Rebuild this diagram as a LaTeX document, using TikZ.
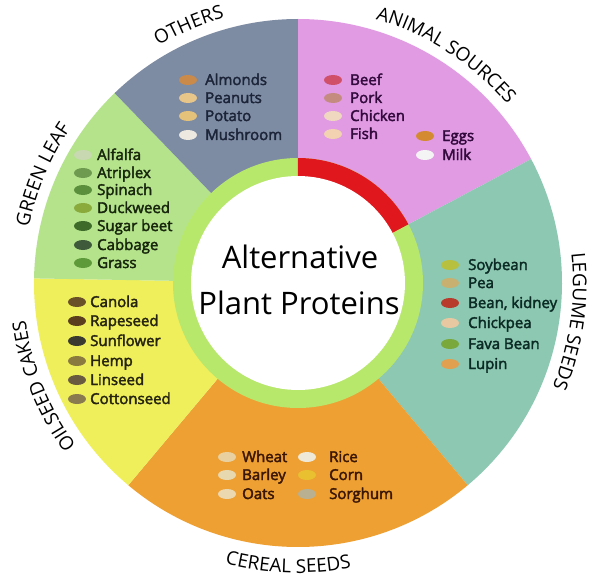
\documentclass[tikz,border=0pt]{standalone}
\usepackage{fontspec}
\setmainfont{Open Sans}
\newfontfamily\itemfamily[FakeBold=2.5]{Open Sans}
\usetikzlibrary{decorations.text}
\definecolor{animal}{HTML}{E09BE3}
\definecolor{legume}{HTML}{8DC8B2}
\definecolor{cereal}{HTML}{EEA033}
\definecolor{oilseed}{HTML}{EFEF5C}
\definecolor{greenleaf}{HTML}{B4E38C}
\definecolor{others}{HTML}{7D8BA3}
\definecolor{ringgreen}{HTML}{B7E86C}
\definecolor{ringred}{HTML}{E0181E}
\definecolor{othtext}{HTML}{1C2438}
\definecolor{anitext}{HTML}{330A3D}
\definecolor{grtext}{HTML}{17260C}
\definecolor{legtext}{HTML}{0B2A24}
\definecolor{oiltext}{HTML}{262410}
\definecolor{certext}{HTML}{3A1604}
% icon colours
\definecolor{almond}{HTML}{C98A4A}\definecolor{peanut}{HTML}{E8C68A}
\definecolor{potato}{HTML}{E5C27A}\definecolor{mushroom}{HTML}{EDE8E0}
\definecolor{alfalfa}{HTML}{C8D8B0}\definecolor{atriplex}{HTML}{6E9A50}
\definecolor{spinach}{HTML}{5C8F3C}\definecolor{duckweed}{HTML}{8AAA3C}
\definecolor{sugarbeet}{HTML}{3E6A2A}\definecolor{cabbage}{HTML}{3F5A3A}
\definecolor{grass}{HTML}{5E9A3A}
\definecolor{beef}{HTML}{D0506A}\definecolor{pork}{HTML}{C48C80}
\definecolor{chicken}{HTML}{F0D8C0}\definecolor{fish}{HTML}{F2D2B0}
\definecolor{eggs}{HTML}{D48A30}\definecolor{milk}{HTML}{F4F4F4}
\definecolor{soybean}{HTML}{B8C040}\definecolor{pea}{HTML}{C8B070}
\definecolor{kidney}{HTML}{B83A2A}\definecolor{chickpea}{HTML}{E8C8A0}
\definecolor{fava}{HTML}{7AA83A}\definecolor{lupin}{HTML}{E0A050}
\definecolor{canola}{HTML}{6A5028}\definecolor{rapeseed}{HTML}{5A3E1E}
\definecolor{sunflower}{HTML}{3A3A30}\definecolor{hemp}{HTML}{8A7A40}
\definecolor{linseed}{HTML}{6A5A40}\definecolor{cottonseed}{HTML}{8A7A50}
\definecolor{wheat}{HTML}{E8D0A0}\definecolor{barley}{HTML}{E8D8B0}
\definecolor{oats}{HTML}{ECD8B0}\definecolor{rice}{HTML}{EEE8D8}
\definecolor{corn}{HTML}{E8C030}\definecolor{sorghum}{HTML}{B8B090}
\newcommand\lblfont{\fontsize{19}{19}\selectfont}
\tikzset{item/.style={anchor=base west,inner sep=0pt,font=\itemfamily\fontsize{15}{15}\selectfont},
  title/.style={anchor=base,inner sep=0pt,font=\fontsize{31}{31}\selectfont},
  icon/.style={x radius=9,y radius=5}}

\begin{document}
\begin{tikzpicture}[x=1pt,y=1pt]
\useasboundingbox (-298,-301) rectangle (302,283);
\fill[white] (-298,-301) rectangle (302,283);
% sectors
\foreach \a/\b/\c in {28/90/animal,-50/28/legume,-130/-50/cereal,179/230/oilseed,134/179/greenleaf,90/134/others}
  \fill[\c] (0,0) -- (\a:264) arc[start angle=\a,end angle=\b,radius=264] -- cycle;
% inner ring
\fill[ringgreen] (0,0) circle[radius=125];
\fill[ringred] (0,0) -- (28:125) arc[start angle=28,end angle=90,radius=125] -- cycle;
\fill[white] (0,0) circle[radius=107];
\node[title] (alt) at (2,15) {Alternative};
\node[title] (plant) at (1,-31) {Plant Proteins};
% outer labels
\foreach \m/\t in {113/OTHERS,57/ANIMAL SOURCES,-8/LEGUME SEEDS,157/GREEN LEAF,202/OILSEED CAKES}
  \path[decorate,decoration={text along path,text align=center,text={|\lblfont|\t}}]
    (\m+55:275) arc[start angle=\m+55,end angle=\m-55,radius=275];
\path[decorate,decoration={text along path,text align=center,text={|\lblfont|CEREAL SEEDS}}]
  (213:290) arc[start angle=213,end angle=323,radius=290];
% items
\foreach \t/\y/\c [count=\i] in {Almonds/198/almond,Peanuts/180/peanut,Potato/162/potato,Mushroom/143/mushroom}{
  \fill[\c] (-110,\y+5) ellipse[icon];
  \node[item,text=othtext] (oth\i) at (-93,\y) {\t};}
\foreach \t/\y/\c [count=\i] in {Alfalfa/123/alfalfa,Atriplex/105/atriplex,Spinach/88/spinach,Duckweed/70/duckweed,Sugar beet/52/sugarbeet,Cabbage/33/cabbage,Grass/15/grass}{
  \fill[\c] (-215,\y+5) ellipse[icon];
  \node[item,text=grtext] (grn\i) at (-201,\y) {\t};}
\foreach \t/\y/\c [count=\i] in {Beef/198/beef,Pork/180/pork,Chicken/162/chicken,Fish/144/fish}{
  \fill[\c] (35,\y+5) ellipse[icon];
  \node[item,text=anitext] (ani\i) at (52,\y) {\t};}
\foreach \t/\y/\c [count=\i] in {Eggs/142/eggs,Milk/123/milk}{
  \fill[\c] (127,\y+5) ellipse[icon];
  \node[item,text=anitext] (dai\i) at (144,\y) {\t};}
\foreach \t/\y/\c [count=\i] in {Soybean/13/soybean,Pea/-5/pea,{Bean, kidney}/-25/kidney,Chickpea/-45/chickpea,Fava Bean/-66/fava,Lupin/-86/lupin}{
  \fill[\c] (152,\y+5) ellipse[icon];
  \node[item,text=legtext] (leg\i) at (170,\y) {\t};}
\foreach \t/\y/\c [count=\i] in {Canola/-24/canola,Rapeseed/-43/rapeseed,Sunflower/-63/sunflower,Hemp/-83/hemp,Linseed/-102/linseed,Cottonseed/-121/cottonseed}{
  \fill[\c] (-221,\y+5) ellipse[icon];
  \node[item,text=oiltext] (oil\i) at (-208,\y) {\t};}
\foreach \t/\y/\c [count=\i] in {Wheat/-179/wheat,Barley/-197/barley,Oats/-216/oats}{
  \fill[\c] (-71,\y+5) ellipse[icon];
  \node[item,text=certext] (cer\i) at (-56,\y) {\t};}
\foreach \t/\y/\c [count=\i] in {Rice/-179/rice,Corn/-197/corn,Sorghum/-216/sorghum}{
  \fill[\c] (9,\y+5) ellipse[icon];
  \node[item,text=certext] (grain\i) at (31,\y) {\t};}
\end{tikzpicture}
\end{document}
